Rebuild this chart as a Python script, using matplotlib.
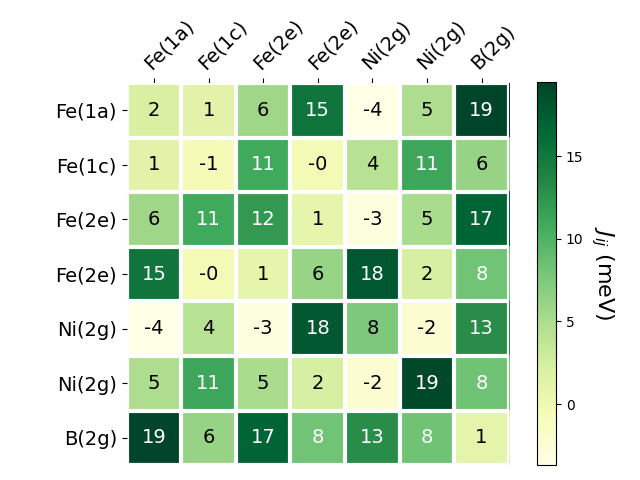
import numpy as np
from matplotlib import pyplot as plt

labels = ["Fe(1a)", "Fe(1c)", "Fe(2e)", "Fe(2e)", "Ni(2g)", "Ni(2g)", "B(2g)"]

# exchange couplings J_ij in meV (symmetric)
row0 = [2.1, 1.2, 5.8, 15.2, -3.69, 4.9, 19.48]
row1 = [1.2, -0.6, 10.8, -0.3, 4.2, 11.1, 6.2]
row2 = [5.8, 10.8, 12.1, 0.9, -3.2, 5.1, 16.8]
row3 = [15.2, -0.3, 0.9, 6.1, 17.9, 2.2, 8.2]
row4 = [-3.69, 4.2, -3.2, 17.9, 7.6, -2.3, 13.0]
row5 = [4.9, 11.1, 5.1, 2.2, -2.3, 19.2, 8.3]
row6 = [19.48, 6.2, 16.8, 8.2, 13.0, 8.3, 1.1]

J = np.array([row0, row1, row2, row3, row4, row5, row6])

fig = plt.figure(figsize=(6.4, 4.8), dpi=100)
ax = fig.add_axes([0.198, 0.031, 0.597, 0.796])
cax = fig.add_axes([0.839, 0.031, 0.030, 0.798])

im = ax.imshow(J, cmap="YlGn", aspect="auto")
cbar = fig.colorbar(im, cax=cax)
cbar.ax.set_ylabel("$J_{ij}$ (meV)", rotation=-90, va="bottom", fontsize=16)

n = len(labels)
ax.set_xticks(np.arange(n))
ax.set_yticks(np.arange(n))
ax.set_xticklabels(labels, fontsize=14)
ax.set_yticklabels(labels, fontsize=14)
ax.tick_params(top=True, bottom=False, labeltop=True, labelbottom=False)
plt.setp(ax.get_xticklabels(), rotation=45, ha="left", rotation_mode="anchor")

for s in ax.spines.values():
    s.set_visible(False)
ax.set_xticks(np.arange(n + 1) - 0.5, minor=True)
ax.set_yticks(np.arange(n + 1) - 0.5, minor=True)
ax.grid(which="minor", color="w", linestyle="-", linewidth=3)
ax.tick_params(which="minor", bottom=False, left=False, top=False)

for i in range(n):
    for j in range(n):
        c = "white" if im.norm(J[i, j]) > 0.5 else "black"
        ax.text(j, i, f"{J[i, j]:.0f}", ha="center", va="center", color=c, fontsize=14)

plt.savefig("out.png")
